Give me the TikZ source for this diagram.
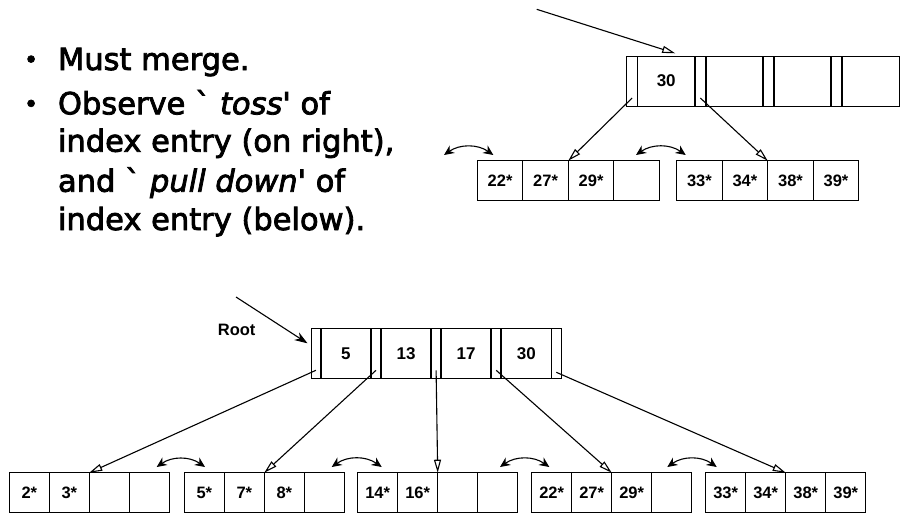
\documentclass[tikz,border=0pt]{standalone}
\usepackage{fontspec}
\setmainfont{Liberation Sans}
\newfontfamily\slidefont[FakeBold=2.6]{DejaVu Sans}
\usetikzlibrary{arrows.meta}
\begin{document}
\begin{tikzpicture}[x=1pt,y=-1pt,
  every node/.style={inner sep=0pt, outer sep=0pt},
  leafcell/.style={draw, line width=1pt, anchor=north west, minimum width=40pt, minimum height=40pt, font=\bfseries\fontsize{16.5}{16.5}\selectfont},
  topcell/.style={leafcell, minimum width=45.5pt},
  ptrslot/.style={draw, line width=1pt, anchor=north west, minimum height=50pt, minimum width=9.8pt},
  keyslot/.style={draw, line width=1pt, anchor=north west, minimum height=50pt, minimum width=50.3pt, font=\bfseries\fontsize{17}{17}\selectfont},
  tptr/.style={ptrslot, minimum width=10.8pt},
  tkey/.style={keyslot, minimum width=57.4pt},
  keyedge/.style={line width=1.8pt},
  ptrarrow/.style={line width=1.1pt, -{Triangle[open, length=13pt, width=7pt]}},
  rootarrow/.style={line width=1.1pt, -{Stealth[length=13pt, width=9pt]}},
  swaparrow/.style={line width=1.1pt, {Stealth[length=10pt,width=9pt]}-{Stealth[length=10pt,width=9pt]}, bend left=35},
  bullettext/.style={anchor=base west, font=\slidefont\fontsize{30.5}{30.5}\selectfont},
  bulletdot/.style={anchor=base west, font=\slidefont\fontsize{24}{24}\selectfont}
]
\useasboundingbox (0,0) rectangle (901,514);
\fill[white] (0,0) rectangle (901,514);

% ---------- bullet text ----------
\node[bulletdot] (d1) at (24,68) {•};
\node[bullettext] (t1) at (58,70) {Must merge.};
\node[bulletdot] (d2) at (24,112.3) {•};
\node[bullettext] (t2) at (58,114.3) {Observe ` \itshape toss'\upshape{} of};
\node[bullettext] (t3) at (58,151.7) {index entry (on right),};
\node[bullettext] (t4) at (58,191.7) {and ` \itshape pull down'\upshape{} of};
\node[bullettext] (t5) at (58,230) {index entry (below).};

% ---------- top-right tree ----------
\node[tptr] (tp0) at (626.7,56) {};
\node[tkey] (tk1) at (tp0.north east) {30};
\node[tptr] (tp1) at (tk1.north east) {};
\node[tkey] (tk2) at (tp1.north east) {};
\node[tptr] (tp2) at (tk2.north east) {};
\node[tkey] (tk3) at (tp2.north east) {};
\node[tptr] (tp3) at (tk3.north east) {};
\node[tkey] (tk4) at (tp3.north east) {};
\foreach \k in {tk1,tk2,tk3,tk4}{
  \draw[keyedge] (\k.north west) -- (\k.south west);
  \draw[keyedge] (\k.north east) -- (\k.south east);
}

\node[topcell] (T1a) at (477.3,160.7) {22*};
\node[topcell] (T1b) at (T1a.north east) {27*};
\node[topcell] (T1c) at (T1b.north east) {29*};
\node[topcell] (T1d) at (T1c.north east) {};
\node[topcell] (T2a) at (676.7,160.7) {33*};
\node[topcell] (T2b) at (T2a.north east) {34*};
\node[topcell] (T2c) at (T2b.north east) {38*};
\node[topcell] (T2d) at (T2c.north east) {39*};

\coordinate (tin) at (536.7,9.3);
\draw[ptrarrow] (tin) -- ([xshift=9pt,yshift=2.7pt]tk1.north);
\draw[ptrarrow] ([yshift=8pt]tp0.south) -- (T1c.north west);
\draw[ptrarrow] ([yshift=8pt]tp1.south) -- (T2c.north west);

\coordinate (ts1a) at (444,155);
\coordinate (ts1b) at (493.3,155);
\coordinate (ts2a) at (636,155);
\coordinate (ts2b) at (685.7,155);
\draw[swaparrow] (ts1a) to (ts1b);
\draw[swaparrow] (ts2a) to (ts2b);

% ---------- bottom tree ----------
\node[ptrslot] (p0) at (311,328.3) {};
\node[keyslot] (k1) at (p0.north east) {5};
\node[ptrslot] (p1) at (k1.north east) {};
\node[keyslot] (k2) at (p1.north east) {13};
\node[ptrslot] (p2) at (k2.north east) {};
\node[keyslot] (k3) at (p2.north east) {17};
\node[ptrslot] (p3) at (k3.north east) {};
\node[keyslot] (k4) at (p3.north east) {30};
\node[ptrslot] (p4) at (k4.north east) {};
\foreach \k in {k1,k2,k3,k4}{
  \draw[keyedge] (\k.north west) -- (\k.south west);
  \draw[keyedge] (\k.north east) -- (\k.south east);
}

\node[font=\bfseries\fontsize{16.5}{16.5}\selectfont] (rootlbl) at (236.7,329.5) {Root};
\coordinate (rin) at (236,297);
\draw[rootarrow] (rin) -- ([xshift=-3.5pt,yshift=10pt]p0.west);

\node[leafcell] (L1a) at (9.3,472.7) {2*};
\node[leafcell] (L1b) at (L1a.north east) {3*};
\node[leafcell] (L1c) at (L1b.north east) {};
\node[leafcell] (L1d) at (L1c.north east) {};

\node[leafcell] (L2a) at (184.3,472.7) {5*};
\node[leafcell] (L2b) at (L2a.north east) {7*};
\node[leafcell] (L2c) at (L2b.north east) {8*};
\node[leafcell] (L2d) at (L2c.north east) {};

\node[leafcell] (L3a) at (357.7,472.7) {14*};
\node[leafcell] (L3b) at (L3a.north east) {16*};
\node[leafcell] (L3c) at (L3b.north east) {};
\node[leafcell] (L3d) at (L3c.north east) {};

\node[leafcell] (L4a) at (531.7,472.7) {22*};
\node[leafcell] (L4b) at (L4a.north east) {27*};
\node[leafcell] (L4c) at (L4b.north east) {29*};
\node[leafcell] (L4d) at (L4c.north east) {};

\node[leafcell] (L5a) at (705.7,472.7) {33*};
\node[leafcell] (L5b) at (L5a.north east) {34*};
\node[leafcell] (L5c) at (L5b.north east) {38*};
\node[leafcell] (L5d) at (L5c.north east) {39*};

\draw[ptrarrow] ([yshift=8pt]p0.south) -- (L1c.north west);
\draw[ptrarrow] ([yshift=8pt]p1.south) -- (L2c.north west);
\draw[ptrarrow] ([yshift=8pt]p2.south) -- (L3c.north west);
\draw[ptrarrow] ([yshift=8pt]p3.south) -- (L4c.north west);
\draw[ptrarrow] ([yshift=6pt]p4.south) -- (L5c.north west);

\coordinate (s1a) at (156.7,467);
\coordinate (s1b) at (205,467);
\coordinate (s2a) at (331.7,467);
\coordinate (s2b) at (381.7,467);
\coordinate (s3a) at (500,467);
\coordinate (s3b) at (549.3,467);
\coordinate (s4a) at (667.3,467);
\coordinate (s4b) at (716.7,467);
\draw[swaparrow] (s1a) to (s1b);
\draw[swaparrow] (s2a) to (s2b);
\draw[swaparrow] (s3a) to (s3b);
\draw[swaparrow] (s4a) to (s4b);
\end{tikzpicture}
\end{document}
